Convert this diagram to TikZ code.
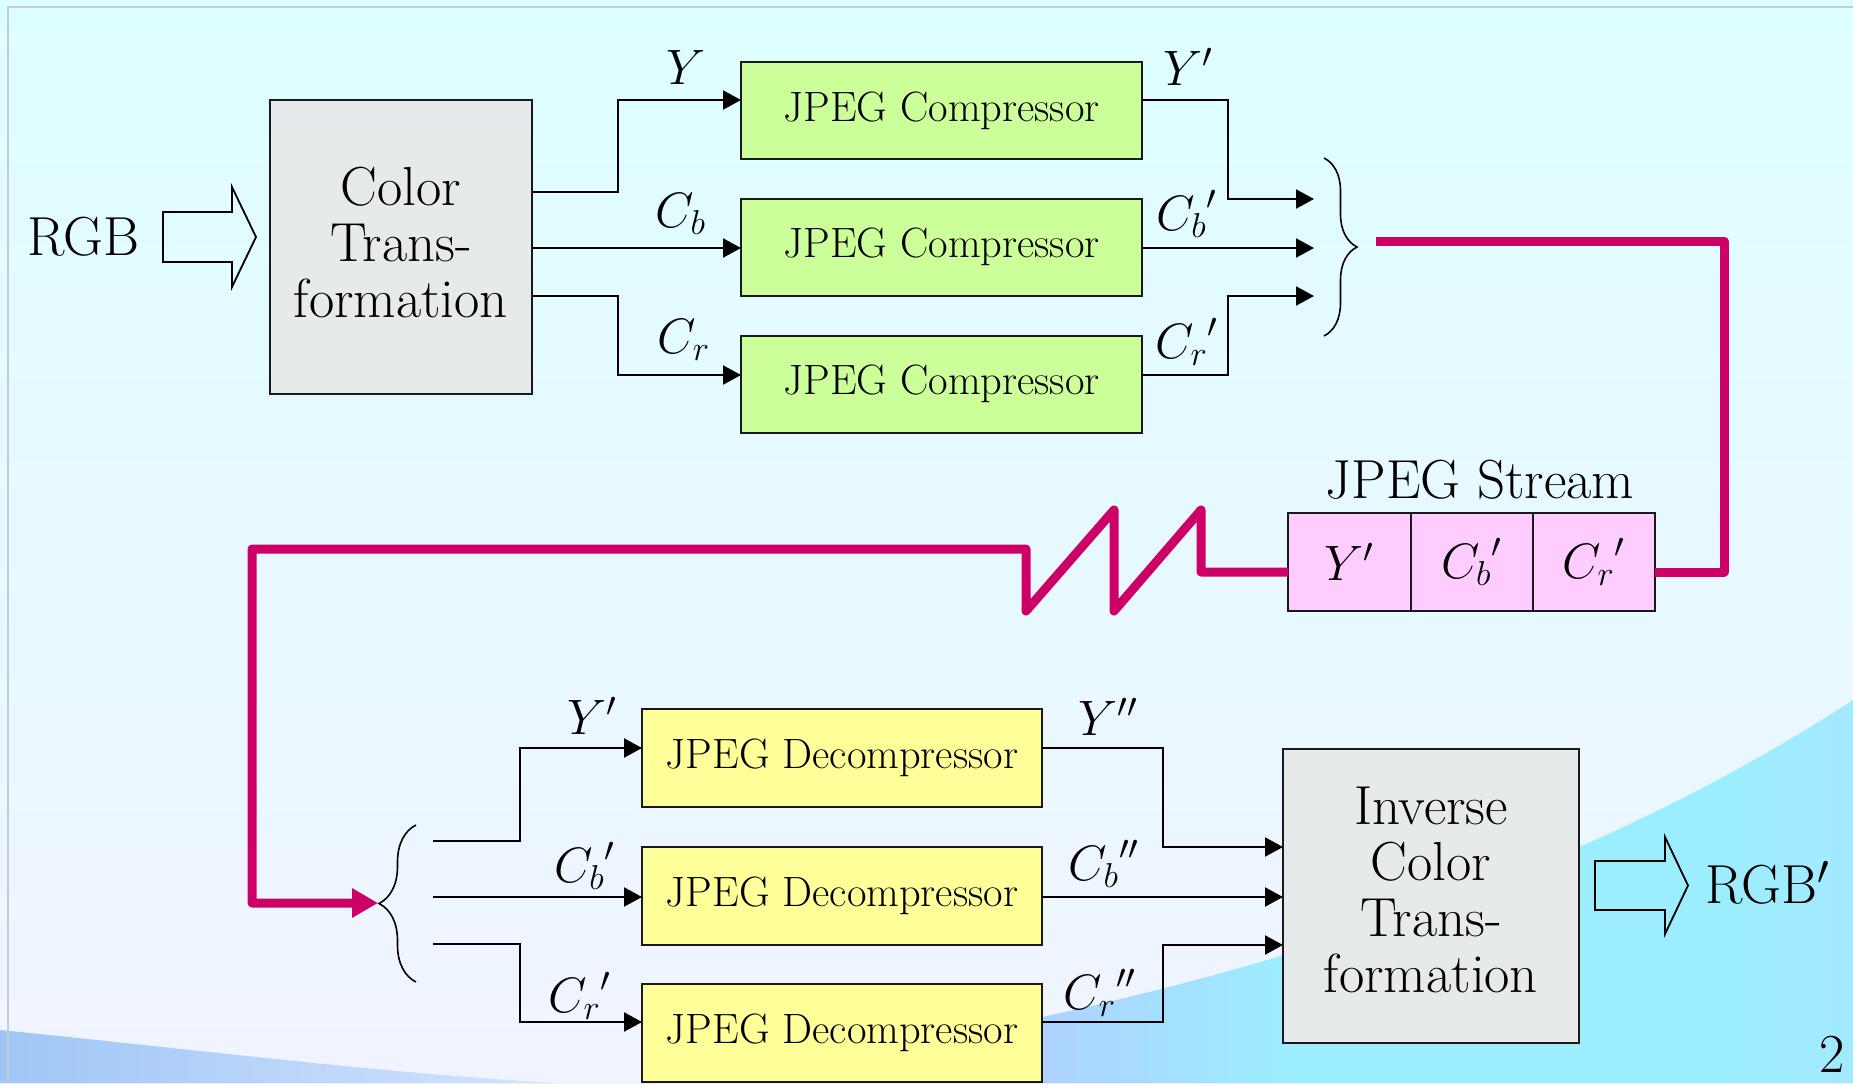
\documentclass[tikz,border=0pt]{standalone}
\usetikzlibrary{arrows.meta,decorations.pathreplacing}
\definecolor{bgtop}{HTML}{DDFEFF}
\definecolor{bgbot}{HTML}{F1F4FF}
\definecolor{compgreen}{HTML}{CCFF99}
\definecolor{decyellow}{HTML}{FFFF99}
\definecolor{streampink}{HTML}{FFCCFF}
\definecolor{ctgray}{HTML}{E7EAEA}
\definecolor{magcol}{HTML}{CC0066}
\definecolor{framecol}{HTML}{C4CCD4}
\definecolor{swlav}{HTML}{B8C0FF}
\definecolor{swcyan}{HTML}{9CEEFF}
\definecolor{swblue}{HTML}{B6DAFF}
\definecolor{swleft}{HTML}{9FC6F6}
\definecolor{swleftb}{HTML}{D6E4FF}
\pgfdeclarehorizontalshading{swooshshade}{100bp}{color(0bp)=(swlav); color(35bp)=(swlav); color(52bp)=(swcyan); color(70bp)=(swcyan); color(88bp)=(swblue); color(100bp)=(swblue)}
\newcommand{\bigf}{\fontsize{27.5}{28}\selectfont}
\newcommand{\smallf}{\fontsize{21.2}{25}\selectfont}
\newcommand{\mathf}{\fontsize{25}{30}\selectfont}
\begin{document}
\begin{tikzpicture}[x=0.5pt,y=-0.5pt,
  box/.style={draw=black!90, line width=1pt, inner sep=0pt, outer sep=0pt},
  ctbox/.style={box, fill=ctgray, minimum width=131pt, minimum height=147pt, font=\bigf, align=center},
  compbox/.style={box, fill=compgreen, minimum width=200.5pt, minimum height=48.5pt, font=\smallf},
  decbox/.style={box, fill=decyellow, minimum width=200pt, minimum height=49pt, font=\smallf},
  cellbox/.style={box, fill=streampink, minimum width=61.15pt, minimum height=49pt, font=\mathf},
  lab/.style={inner sep=0pt, font=\mathf},
  bigtext/.style={inner sep=0pt, font=\bigf},
  wire/.style={line width=1.1pt, line join=miter},
  arr/.style={wire, -{Triangle[length=9pt,width=9.5pt]}},
  magline/.style={draw=magcol, line width=4.5pt, line join=round},
  magarr/.style={magline, -{Triangle[length=13pt,width=14pt]}},
  bracestyle/.style={line width=0.8pt, decorate, decoration={brace,amplitude=#1}},
  hollow/.style={line width=0.9pt, line join=miter}
]
\useasboundingbox (0,0) rectangle (1853,1083);
\clip (0,0) rectangle (1853,1083);
% background
\shade[top color=bgtop, bottom color=bgbot] (0,0) rectangle (1853,1083);
\shade[shading=swooshshade]
  (640,1083) .. controls (1050,1035) and (1500,930) .. (1853,700) -- (1853,1083) -- cycle;
\shade[left color=swleft, right color=swleftb]
  (0,1030) .. controls (200,1050) and (400,1075) .. (560,1083) -- (0,1083) -- cycle;
\draw[framecol, line width=0.6pt] (8,1083) -- (8,7) -- (1853,7);

% input
\node[bigtext, anchor=base] (rgb) at (83,255) {RGB};
\coordinate (ha1) at (163,237);
\draw[hollow] (ha1) -- ++(0,-25) -- ++(69,0) -- ++(0,-25) -- ++(24,50) -- ++(-24,50) -- ++(0,-25) -- ++(-69,0) -- cycle;

\node[ctbox, text depth=4.5pt] (ct) at (401,247) {Color\\Trans-\\formation};

\node[compbox] (c1) at (941.5,110.5) {JPEG Compressor};
\node[compbox] (c2) at (941.5,247) {JPEG Compressor};
\node[compbox] (c3) at (941.5,384) {JPEG Compressor};

\draw[arr] (ct.east |- 0,192) -- (618,192) |- (c1.west |- 0,100);
\draw[arr] (ct.east |- 0,248) -- (c2.west |- 0,248);
\draw[arr] (ct.east |- 0,296) -- (618,296) |- (c3.west |- 0,375);

\node[lab] (lY) at (686,67) {$Y$};
\node[lab] (lCb) at (681,214) {$C_b$};
\node[lab] (lCr) at (684,340) {$C_r$};

\coordinate (j1) at (1314,199);
\coordinate (j2) at (1314,248);
\coordinate (j3) at (1314,296);
\draw[arr] (c1.east |- 0,100) -- (1228,100) |- (j1);
\draw[arr] (c2.east |- 0,248) -- (j2);
\draw[arr] (c3.east |- 0,375) -- (1228,375) |- (j3);

\node[lab] (lY1) at (1188,67) {$Y'$};
\node[lab] (lCb1) at (1187,214) {${C_b}'$};
\node[lab] (lCr1) at (1187,342) {${C_r}'$};

\coordinate (rbt) at (1324,158);
\coordinate (rbb) at (1324,336);
\draw[bracestyle=16.5pt] (rbt) -- (rbb);

% stream
\node[bigtext, anchor=base] (st) at (1480,498) {JPEG Stream};
\node[cellbox] (s1) at (1349.4,562) {$Y'$};
\node[cellbox] (s2) at (1471.7,562) {${C_b}'$};
\node[cellbox] (s3) at (1594,562) {${C_r}'$};

\coordinate (m0) at (1376,241);
\draw[magline] (m0) -- (1724,241) -- (1724,572) -- (s3.east |- 0,572);
\coordinate (lbtip) at (378,903);
\draw[magarr] (s1.west |- 0,572) -- (1201,572) -- (1201,510) -- (1114,611) -- (1114,510) -- (1026,611) -- (1026,549) -- (252,549) -- (252,903) -- (lbtip);

% decompression
\coordinate (lbb) at (416,982);
\coordinate (lbt) at (416,825);
\draw[bracestyle=18.5pt] (lbb) -- (lbt);

\node[decbox] (d1) at (842,758) {JPEG Decompressor};
\node[decbox] (d2) at (842,895.5) {JPEG Decompressor};
\node[decbox] (d3) at (842,1033) {JPEG Decompressor};

\coordinate (k1) at (433,841);
\coordinate (k2) at (433,897);
\coordinate (k3) at (433,944);
\draw[arr] (k1) -- (520,841) |- (d1.west |- 0,748);
\draw[arr] (k2) -- (d2.west |- 0,897);
\draw[arr] (k3) -- (520,944) |- (d3.west |- 0,1022);

\node[lab] (lY2) at (592,716) {$Y'$};
\node[lab] (lCb2) at (585,866) {${C_b}'$};
\node[lab] (lCr2) at (580,996) {${C_r}'$};

\node[ctbox, minimum width=148pt, text depth=6pt] (inv) at (1431,896) {Inverse\\Color\\Trans-\\formation};

\draw[arr] (d1.east |- 0,748) -- (1163,748) |- (inv.west |- 0,847);
\draw[arr] (d2.east |- 0,897) -- (inv.west |- 0,897);
\draw[arr] (d3.east |- 0,1022) -- (1163,1022) |- (inv.west |- 0,945);

\node[lab] (lY3) at (1108,717) {$Y''$};
\node[lab] (lCb3) at (1104,864) {${C_b}''$};
\node[lab] (lCr3) at (1100,993) {${C_r}''$};

\coordinate (ha2) at (1595,885.5);
\draw[hollow] (ha2) -- ++(0,-24.5) -- ++(70,0) -- ++(0,-24) -- ++(23,48.5) -- ++(-23,48.5) -- ++(0,-24) -- ++(-70,0) -- cycle;
\node[bigtext, anchor=base] (rgbp) at (1768,903) {RGB$'$};

\node[bigtext, anchor=base east] (pg) at (1845,1072) {2};
\end{tikzpicture}
\end{document}
